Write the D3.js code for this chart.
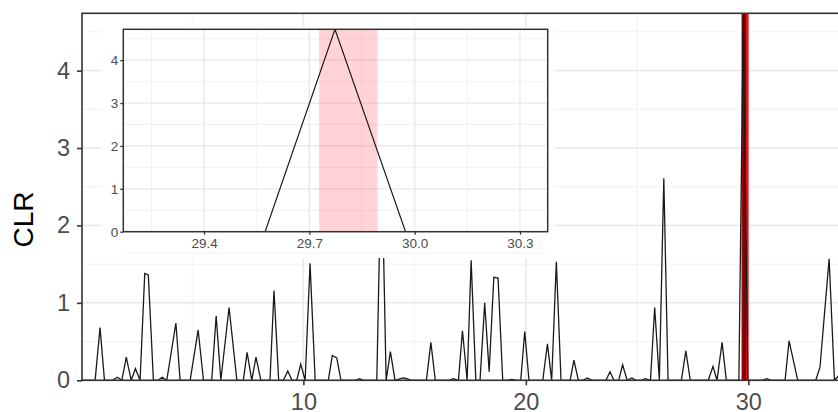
<!DOCTYPE html>
<html>
<head>
<meta charset="utf-8">
<script src="https://cdn.jsdelivr.net/npm/d3@7"></script>
<style>
  body { margin: 0; background: #fff; }
  svg { display: block; font-family: "Liberation Sans", Arial, sans-serif; }
</style>
</head>
<body>
<svg id="chart" width="838" height="412"></svg>
<script>
// positions along the sequence (vertices of the line) and CLR values
const positions = [0.05, 0.64, 0.86, 1.06, 1.42, 1.64, 1.84, 2.04, 2.26, 2.45, 2.66, 2.87, 3.03, 3.26,
  3.47, 3.65, 3.86, 4.27, 4.46, 4.91, 5.27, 5.51, 5.88, 6.08, 6.29, 6.66, 7.01, 7.30, 7.47, 7.68,
  7.87, 8.09, 8.50, 8.68, 8.89, 9.10, 9.30, 9.49, 9.70, 9.88, 10.08, 10.30, 10.53, 11.12, 11.30,
  11.50, 11.69, 12.34, 12.52, 12.70, 13.30, 13.51, 13.72, 13.91, 14.12, 14.47, 14.66, 14.84, 15.53,
  15.73, 15.93, 16.55, 16.74, 16.97, 17.15, 17.36, 17.54, 17.75, 17.94, 18.15, 18.35, 18.56, 18.75,
  18.96, 19.16, 19.37, 19.56, 19.77, 19.95, 20.14, 20.76, 20.97, 21.16, 21.37, 21.58, 21.99, 22.16,
  22.36, 22.57, 22.76, 22.97, 23.60, 23.78, 23.96, 24.17, 24.35, 24.55, 24.76, 24.95, 25.18, 25.37,
  25.60, 25.79, 26.00, 26.20, 26.39, 26.99, 27.19, 27.39, 28.20, 28.41, 28.59, 28.82, 29.01, 29.574,
  29.773, 29.974, 30.62, 30.83, 31.02, 31.65, 31.83, 32.22, 33.03, 33.22, 33.63, 33.87, 34.03, 34.35];
const clr = [0, 0, 0.68, 0, 0, 0.04, 0, 0.30, 0, 0.15, 0, 1.38, 1.36, 0,
  0, 0.04, 0, 0.74, 0, 0, 0.65, 0, 0, 0.83, 0, 0.94, 0, 0, 0.36, 0,
  0.30, 0, 0, 1.16, 0, 0, 0.12, 0, 0, 0.21, 0, 1.51, 0, 0, 0.32,
  0.29, 0, 0, 0.02, 0, 0, 3.0, 0, 0.37, 0, 0.03, 0.02, 0, 0,
  0.49, 0, 0, 0.02, 0, 0.64, 0, 1.55, 0, 0, 1.00, 0.11, 1.33, 1.32,
  0, 0, 0.01, 0, 0, 0.63, 0, 0, 0.47, 0, 1.53, 0, 0, 0.26,
  0, 0, 0.03, 0, 0, 0.11, 0, 0, 0.20, 0, 0.03, 0, 0, 0.02,
  0, 0.94, 0, 2.61, 0, 0, 0.38, 0, 0, 0.18, 0, 0.49, 0, 0,
  4.72, 0, 0, 0.02, 0, 0, 0.51, 0, 0, 0.17, 1.57, 0, 0.05, 0];

const mainXTicks = [10, 20, 30];
const mainYTicks = [0, 1, 2, 3, 4];
const insetXTicks = [29.4, 29.7, 30.0, 30.3];
const insetYTicks = [0, 1, 2, 3, 4];

// highlighted window
const bandStart = 29.728, bandEnd = 29.894;
const bandOuterStart = 29.69, bandOuterEnd = 30.01;

const data = positions.map((p, i) => ({ x: p, y: clr[i] }));
const svg = d3.select("#chart");

function minorsOf(ticks, step) {
  return ticks.map(t => t - step / 2).concat([ticks[ticks.length - 1] + step / 2]);
}

// ---- main panel ----
const x = d3.scaleLinear().domain([0.05, 34.6]).range([82, 850.7]);
const y = d3.scaleLinear().domain([0, 4.74]).range([380.3, 13.3]);

svg.append("clipPath").attr("id", "clipMain")
  .append("rect").attr("x", 82).attr("y", 13.3).attr("width", 770).attr("height", 367);

const grid = svg.append("g");
grid.selectAll(".ym").data(minorsOf(mainYTicks, 1)).enter().append("line")
  .attr("x1", 82).attr("x2", 851).attr("y1", d => y(d)).attr("y2", d => y(d))
  .attr("stroke", "#efefef").attr("stroke-width", 0.8);
grid.selectAll(".xm").data([5, 15, 25, 35]).enter().append("line")
  .attr("y1", 13.3).attr("y2", 380.3).attr("x1", d => x(d)).attr("x2", d => x(d))
  .attr("stroke", "#efefef").attr("stroke-width", 0.8);
grid.selectAll(".yM").data(mainYTicks).enter().append("line")
  .attr("x1", 82).attr("x2", 851).attr("y1", d => y(d)).attr("y2", d => y(d))
  .attr("stroke", "#e8e8e8").attr("stroke-width", 1.5);
grid.selectAll(".xM").data(mainXTicks).enter().append("line")
  .attr("y1", 13.3).attr("y2", 380.3).attr("x1", d => x(d)).attr("x2", d => x(d))
  .attr("stroke", "#e8e8e8").attr("stroke-width", 1.5);

svg.append("rect").attr("x", x(bandOuterStart)).attr("y", 13.3)
  .attr("width", x(bandOuterEnd) - x(bandOuterStart)).attr("height", 367)
  .attr("fill", "#e8121c");
svg.append("rect").attr("x", x(bandStart)).attr("y", 13.3)
  .attr("width", x(bandEnd) - x(bandStart)).attr("height", 367)
  .attr("fill", "#7a0505");

const lineMain = d3.line().x(d => x(d.x)).y(d => y(d.y));
svg.append("path").datum(data).attr("d", lineMain)
  .attr("clip-path", "url(#clipMain)")
  .attr("fill", "none").attr("stroke", "#1a1a1a").attr("stroke-width", 1.3)
  .attr("stroke-linejoin", "miter");

svg.append("rect").attr("x", 82).attr("y", 13.3).attr("width", 769).attr("height", 367)
  .attr("fill", "none").attr("stroke", "#333").attr("stroke-width", 1.6);

const xAxis = d3.axisBottom(x).tickValues(mainXTicks).tickFormat(d3.format("d"))
  .tickSize(5).tickPadding(8);
const gx = svg.append("g").attr("transform", "translate(0,380.3)").call(xAxis);
gx.select(".domain").remove();
gx.selectAll("line").attr("stroke", "#333").attr("stroke-width", 1.6);
gx.selectAll("text").attr("font-size", 23.5).attr("fill", "#4d4d4d")
  .attr("dy", "0.71em").attr("font-family", "Liberation Sans, Arial, sans-serif");

const yAxis = d3.axisLeft(y).tickValues(mainYTicks).tickFormat(d3.format("d"))
  .tickSize(5).tickPadding(7);
const gy = svg.append("g").attr("transform", "translate(82,0)").call(yAxis);
gy.select(".domain").remove();
gy.selectAll("line").attr("stroke", "#333").attr("stroke-width", 1.6);
gy.selectAll("text").attr("font-size", 23.5).attr("fill", "#4d4d4d")
  .attr("font-family", "Liberation Sans, Arial, sans-serif");

svg.append("text").attr("transform", "translate(33,219.5) rotate(-90)")
  .attr("text-anchor", "middle").attr("font-size", 28).attr("fill", "#000").text("CLR");

// ---- inset ----
const ix = d3.scaleLinear().domain([29.17, 30.379]).range([123.3, 547.7]);
const iy = d3.scaleLinear().domain([0, 4.72]).range([231.7, 29.3]);

svg.append("rect").attr("x", 101).attr("y", 27).attr("width", 454).attr("height", 231).attr("fill", "#fff");

svg.append("clipPath").attr("id", "clipInset")
  .append("rect").attr("x", 123.3).attr("y", 29.3).attr("width", 424.4).attr("height", 202.4);

const ig = svg.append("g");
ig.selectAll(".ym").data(minorsOf(insetYTicks, 1)).enter().append("line")
  .attr("x1", 123.3).attr("x2", 547.7).attr("y1", d => iy(d)).attr("y2", d => iy(d))
  .attr("stroke", "#efefef").attr("stroke-width", 0.8);
ig.selectAll(".xm").data([29.25, 29.55, 29.85, 30.15]).enter().append("line")
  .attr("y1", 29.3).attr("y2", 231.7).attr("x1", d => ix(d)).attr("x2", d => ix(d))
  .attr("stroke", "#efefef").attr("stroke-width", 0.8);
ig.selectAll(".yM").data(insetYTicks).enter().append("line")
  .attr("x1", 123.3).attr("x2", 547.7).attr("y1", d => iy(d)).attr("y2", d => iy(d))
  .attr("stroke", "#e8e8e8").attr("stroke-width", 1.3);
ig.selectAll(".xM").data(insetXTicks).enter().append("line")
  .attr("y1", 29.3).attr("y2", 231.7).attr("x1", d => ix(d)).attr("x2", d => ix(d))
  .attr("stroke", "#e8e8e8").attr("stroke-width", 1.3);

svg.append("rect").attr("x", ix(bandStart)).attr("y", 29.3)
  .attr("width", ix(bandEnd) - ix(bandStart)).attr("height", 202.4)
  .attr("fill", "rgba(255,20,40,0.19)");

const lineInset = d3.line().x(d => ix(d.x)).y(d => iy(d.y));
svg.append("path").datum(data).attr("d", lineInset)
  .attr("clip-path", "url(#clipInset)")
  .attr("fill", "none").attr("stroke", "#1a1a1a").attr("stroke-width", 1.2);

svg.append("rect").attr("x", 123.3).attr("y", 29.3).attr("width", 424.4).attr("height", 202.4)
  .attr("fill", "none").attr("stroke", "#333").attr("stroke-width", 1.5);

const ixAxis = d3.axisBottom(ix).tickValues(insetXTicks).tickFormat(d3.format(".1f"))
  .tickSize(3).tickPadding(4);
const gix = svg.append("g").attr("transform", "translate(0,231.7)").call(ixAxis);
gix.select(".domain").remove();
gix.selectAll("line").attr("stroke", "#333").attr("stroke-width", 1.3);
gix.selectAll("text").attr("font-size", 13.5).attr("fill", "#4d4d4d")
  .attr("font-family", "Liberation Sans, Arial, sans-serif");

const iyAxis = d3.axisLeft(iy).tickValues(insetYTicks).tickFormat(d3.format("d"))
  .tickSize(3).tickPadding(2);
const giy = svg.append("g").attr("transform", "translate(123.3,0)").call(iyAxis);
giy.select(".domain").remove();
giy.selectAll("line").attr("stroke", "#333").attr("stroke-width", 1.3);
giy.selectAll("text").attr("font-size", 13.5).attr("fill", "#4d4d4d")
  .attr("font-family", "Liberation Sans, Arial, sans-serif");
</script>
</body>
</html>
